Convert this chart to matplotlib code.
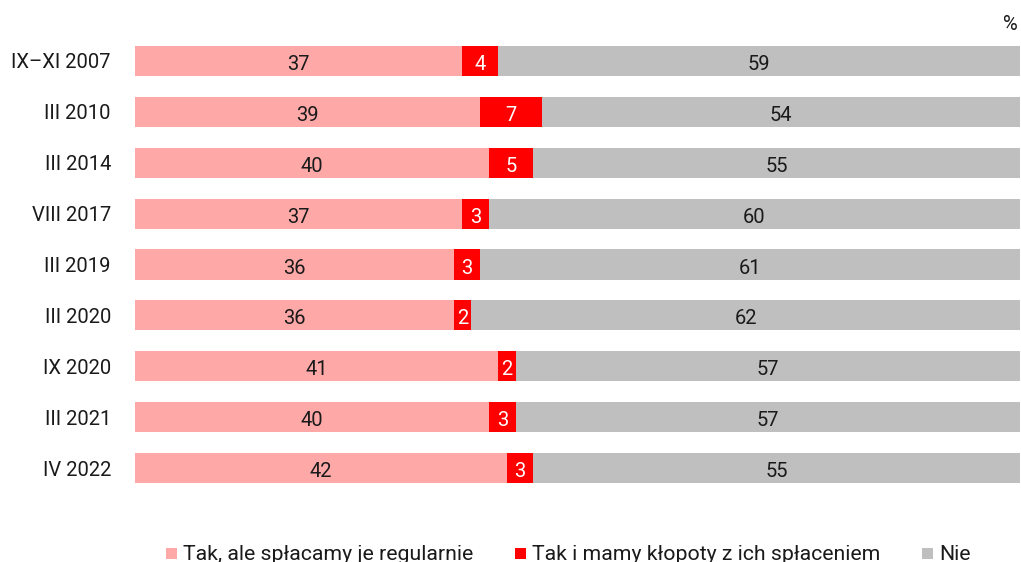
import numpy as np
import matplotlib.pyplot as plt
from matplotlib.patches import Rectangle

plt.rcParams['font.family'] = ['Roboto', 'DejaVu Sans']

# data
categories = ['IX\u2013XI 2007', 'III 2010', 'III 2014', 'VIII 2017', 'III 2019',
              'III 2020', 'IX 2020', 'III 2021', 'IV 2022']
regular = [37, 39, 40, 37, 36, 36, 41, 40, 42]
trouble = [4, 7, 5, 3, 3, 2, 2, 3, 3]
no = [59, 54, 55, 60, 61, 62, 57, 57, 55]
series_names = ['Tak, ale spłacamy je regularnie', 'Tak i mamy kłopoty z ich spłaceniem', 'Nie']

colors = ['#FFA8A8', '#FF0000', '#BFBFBF']
text_colors = ['#1a1a1a', 'white', '#1a1a1a']

W, H = 1021, 562
fig = plt.figure(figsize=(W / 100, H / 100), dpi=100)
ax = fig.add_axes([135 / W, 1 - 493.5 / H, 885 / W, 458 / H])

y = np.arange(len(categories))
left = np.zeros(len(categories))
for vals, col, tcol in zip([regular, trouble, no], colors, text_colors):
    vals = np.array(vals, dtype=float)
    ax.barh(y, vals, left=left, height=0.59, color=col, edgecolor='none')
    for yi, l, v in zip(y, left, vals):
        ax.text(l + v / 2, yi + 0.03, f'{int(v)}', ha='center', va='center_baseline',
                fontsize=14.5, color=tcol)
    left += vals

ax.set_xlim(0, 100)
ax.set_ylim(len(categories) - 0.5, -0.5)
ax.set_yticks(y)
ax.set_yticklabels(categories, fontsize=14.5, color='#1a1a1a')
ax.tick_params(axis='y', length=0, pad=17.3)
ax.set_xticks([])
for s in ax.spines.values():
    s.set_visible(False)

fig.text(1010 / W, 1 - 22 / H, '%', ha='center', va='center_baseline', fontsize=14.5, color='#1a1a1a')

# legend, placed by hand (spacing in the original is uneven)
legend_x = [166, 515, 922]
for lx, c, name in zip(legend_x, colors, series_names):
    fig.patches.append(Rectangle((lx / W, 1 - 559 / H), 11 / W, 11 / H,
                                 facecolor=c, edgecolor='none', transform=fig.transFigure))
    fig.text((lx + 17) / W, 1 - 560 / H, name, ha='left', va='baseline',
             fontsize=15.3, color='#1a1a1a')

fig.savefig('out.png', dpi=100)
